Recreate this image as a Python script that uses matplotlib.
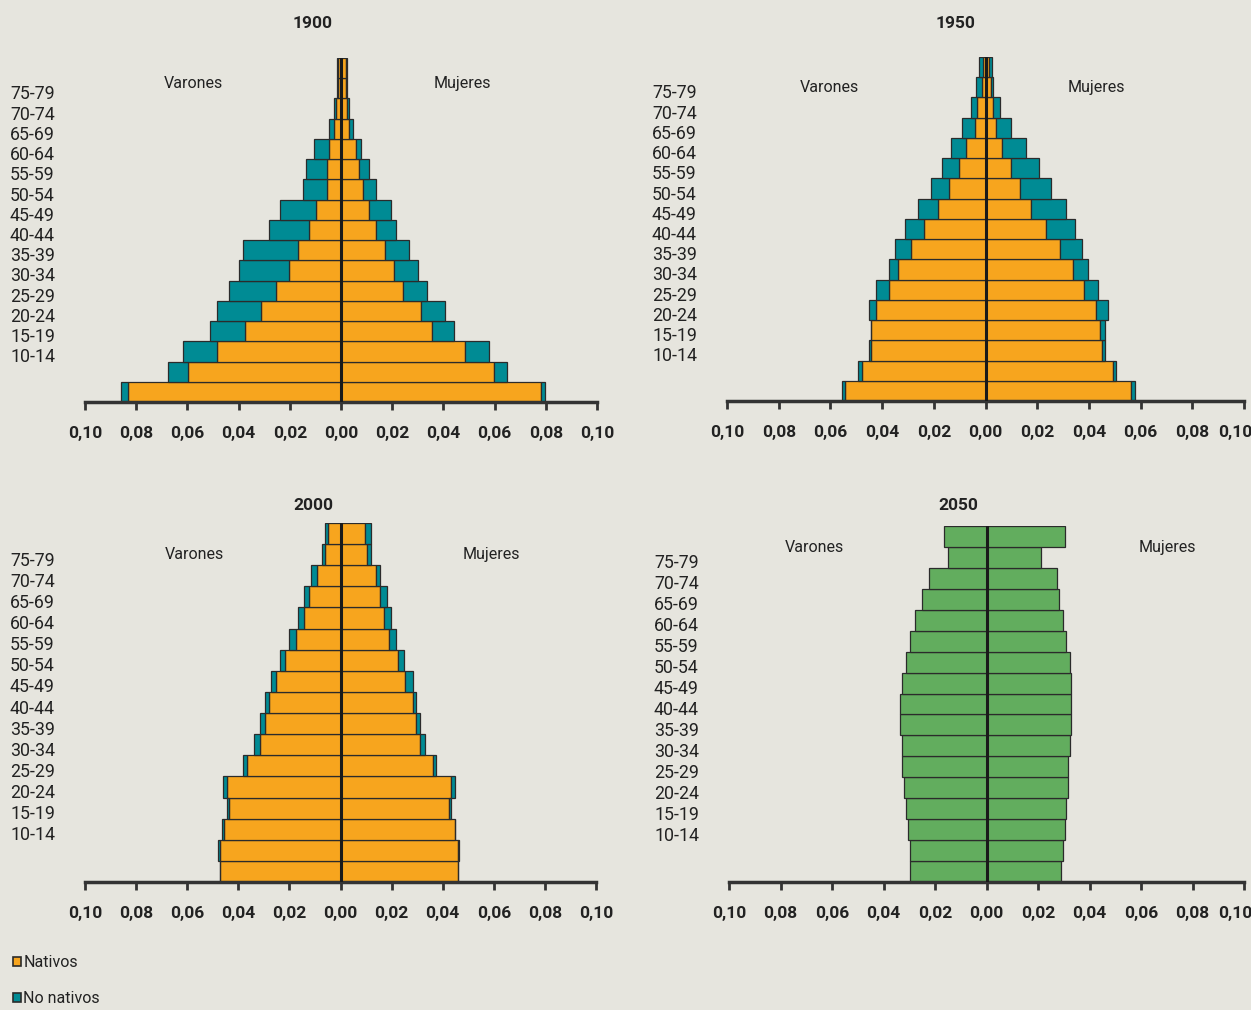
import numpy as np
import matplotlib
matplotlib.use('Agg')
import matplotlib.pyplot as plt
import matplotlib.transforms as mtransforms
from matplotlib.patches import Patch

plt.rcParams['font.family'] = ['Roboto', 'DejaVu Sans']

# grupos de edad, de abajo (0-4) hacia arriba (80+)
grupos = ['0-4', '5-9', '10-14', '15-19', '20-24', '25-29', '30-34', '35-39',
          '40-44', '45-49', '50-54', '55-59', '60-64', '65-69', '70-74',
          '75-79', '80+']
etiquetas = ['10-14', '15-19', '20-24', '25-29', '30-34', '35-39', '40-44',
             '45-49', '50-54', '55-59', '60-64', '65-69', '70-74', '75-79']
ticks_x = [-0.10, -0.08, -0.06, -0.04, -0.02, 0.0, 0.02, 0.04, 0.06, 0.08, 0.10]

# 1900
v1900_nat = [0.0831, 0.0596, 0.0483, 0.0374, 0.0311, 0.0254, 0.0204, 0.0169, 0.0125,
             0.0096, 0.0054, 0.0054, 0.0048, 0.0026, 0.0020, 0.0010, 0.0010]
v1900_tot = [0.0860, 0.0674, 0.0617, 0.0510, 0.0483, 0.0439, 0.0398, 0.0382, 0.0283,
             0.0240, 0.0147, 0.0135, 0.0105, 0.0048, 0.0026, 0.0014, 0.0014]
m1900_nat = [0.0783, 0.0599, 0.0484, 0.0357, 0.0314, 0.0243, 0.0207, 0.0170, 0.0136,
             0.0108, 0.0087, 0.0071, 0.0059, 0.0031, 0.0025, 0.0020, 0.0020]
m1900_tot = [0.0798, 0.0648, 0.0577, 0.0442, 0.0407, 0.0334, 0.0300, 0.0264, 0.0215,
             0.0195, 0.0136, 0.0108, 0.0080, 0.0045, 0.0031, 0.0025, 0.0025]

# 1950
v1950_nat = [0.0543, 0.0479, 0.0443, 0.0443, 0.0422, 0.0373, 0.0337, 0.0289, 0.0239,
             0.0183, 0.0141, 0.0104, 0.0076, 0.0041, 0.0032, 0.0015, 0.0010]
v1950_tot = [0.0556, 0.0493, 0.0450, 0.0444, 0.0450, 0.0423, 0.0373, 0.0352, 0.0310,
             0.0262, 0.0212, 0.0169, 0.0135, 0.0092, 0.0057, 0.0035, 0.0027]
m1950_nat = [0.0564, 0.0493, 0.0450, 0.0443, 0.0429, 0.0381, 0.0337, 0.0289, 0.0233,
             0.0177, 0.0135, 0.0098, 0.0065, 0.0042, 0.0029, 0.0020, 0.0012]
m1950_tot = [0.0577, 0.0506, 0.0464, 0.0464, 0.0472, 0.0437, 0.0395, 0.0373, 0.0345,
             0.0311, 0.0254, 0.0206, 0.0156, 0.0100, 0.0057, 0.0030, 0.0024]

# 2000
v2000_nat = [0.0472, 0.0473, 0.0457, 0.0436, 0.0443, 0.0366, 0.0316, 0.0295, 0.0279,
             0.0251, 0.0216, 0.0174, 0.0144, 0.0124, 0.0093, 0.0059, 0.0047]
v2000_tot = [0.0473, 0.0481, 0.0465, 0.0443, 0.0459, 0.0380, 0.0338, 0.0316, 0.0295,
             0.0273, 0.0237, 0.0202, 0.0167, 0.0144, 0.0116, 0.0074, 0.0062]
m2000_nat = [0.0460, 0.0460, 0.0447, 0.0425, 0.0431, 0.0361, 0.0310, 0.0296, 0.0282,
             0.0254, 0.0225, 0.0191, 0.0169, 0.0155, 0.0140, 0.0104, 0.0096]
m2000_tot = [0.0461, 0.0462, 0.0448, 0.0431, 0.0447, 0.0375, 0.0332, 0.0310, 0.0296,
             0.0282, 0.0247, 0.0219, 0.0197, 0.0183, 0.0155, 0.0118, 0.0118]

# 2050 (proyeccion, sin distinguir origen)
v2050 = [0.0299, 0.0299, 0.0306, 0.0313, 0.0321, 0.0329, 0.0329, 0.0335, 0.0335,
         0.0329, 0.0313, 0.0299, 0.0276, 0.0249, 0.0222, 0.0151, 0.0164]
m2050 = [0.0288, 0.0296, 0.0304, 0.0310, 0.0317, 0.0317, 0.0323, 0.0330, 0.0330,
         0.0330, 0.0323, 0.0310, 0.0296, 0.0282, 0.0275, 0.0211, 0.0304]

fondo = '#E6E5DE'
naranja = '#F7A51E'
verde_azul = '#008B94'
verde = '#62AD5E'
borde = '#2B2B2B'
texto = '#222222'

W, H = 1251, 1010
fig = plt.figure(figsize=(W / 100, H / 100), dpi=100, facecolor=fondo)


def px_ax(l, r, t, b):
    return fig.add_axes([l / W, 1 - b / H, (r - l) / W, (b - t) / H])


def piramide(ax, vnat, vtot, mnat, mtot, color_nat, txt_pos, lab_x, corta_ult=False):
    y = np.arange(len(grupos))
    ax.barh(y, -np.array(vnat), height=1, color=color_nat, edgecolor=borde, linewidth=0.9)
    ax.barh(y, mnat, height=1, color=color_nat, edgecolor=borde, linewidth=0.9)
    if vtot is not None:
        vext = np.array(vtot) - np.array(vnat)
        mext = np.array(mtot) - np.array(mnat)
        ax.barh(y, -vext, left=-np.array(vnat), height=1, color=verde_azul,
                edgecolor=borde, linewidth=0.9)
        ax.barh(y, mext, left=mnat, height=1, color=verde_azul, edgecolor=borde, linewidth=0.9)
    ax.axvline(0, color='#1A1A1A', linewidth=2.2, zorder=5)
    ax.set_xlim(-0.10, 0.10)
    ax.set_ylim(-0.5, len(grupos) - 0.5)
    ax.set_facecolor('none')
    for s in ['top', 'right', 'left']:
        ax.spines[s].set_visible(False)
    ax.spines['bottom'].set_linewidth(2.5)
    ax.spines['bottom'].set_color('#333333')
    ax.set_xticks(ticks_x)
    ax.set_xticklabels([('%.2f' % abs(t)).replace('.', ',') for t in ticks_x],
                       fontsize=12.5, fontweight='bold', color=texto)
    ax.tick_params(axis='x', direction='out', length=6, width=2, color='#333333', pad=11)
    if corta_ult:
        lab = ax.get_xticklabels()[-1]
        lab.set_transform(lab.get_transform() +
                          mtransforms.ScaledTranslation(-9 / 100, 0, fig.dpi_scale_trans))
    ax.set_yticks([grupos.index(e) for e in etiquetas])
    ax.set_yticklabels(etiquetas, fontsize=12.8, color=texto)
    pos = ax.get_position()
    pad_px = pos.x0 * W - lab_x
    ax.tick_params(axis='y', length=0, pad=pad_px * 72 / 100)
    off = mtransforms.ScaledTranslation(0, -4 / 100, fig.dpi_scale_trans)
    for lab in ax.get_yticklabels():
        lab.set_horizontalalignment('left')
        lab.set_transform(lab.get_transform() + off)
    (vx, vy), (mx, my) = txt_pos
    ax.text(vx, vy, 'Varones', transform=ax.transAxes, ha='center', va='center',
            fontsize=11.5, color=texto)
    ax.text(mx, my, 'Mujeres', transform=ax.transAxes, ha='center', va='center',
            fontsize=11.5, color=texto)


ax1 = px_ax(85, 597, 58, 402)
piramide(ax1, v1900_nat, v1900_tot, m1900_nat, m1900_tot, naranja,
         ((0.211, 0.927), (0.738, 0.927)), 10)
ax2 = px_ax(727, 1244, 57, 401)
piramide(ax2, v1950_nat, v1950_tot, m1950_nat, m1950_tot, naranja,
         ((0.199, 0.91), (0.714, 0.91)), 652, corta_ult=True)
ax3 = px_ax(85, 596, 523, 882)
piramide(ax3, v2000_nat, v2000_tot, m2000_nat, m2000_tot, naranja,
         ((0.215, 0.911), (0.795, 0.911)), 10)
ax4 = px_ax(729, 1244, 526, 882)
piramide(ax4, v2050, None, m2050, None, verde,
         ((0.165, 0.941), (0.852, 0.941)), 654, corta_ult=True)

for txt, x, y in [('1900', 313, 23), ('1950', 956, 24), ('2000', 313, 505), ('2050', 958, 505)]:
    fig.text(x / W, 1 - y / H, txt, ha='center', va='center', fontsize=12.5,
             fontweight='bold', color=texto)

handles = [Patch(facecolor=naranja, edgecolor=borde, linewidth=1.2),
           Patch(facecolor=verde_azul, edgecolor=borde, linewidth=1.2)]
fig.legend(handles, ['Nativos', 'No nativos'], loc='upper left',
           bbox_to_anchor=(5 / W, 1 - 947 / H), frameon=False, fontsize=11.5,
           handlelength=0.5, handleheight=0.5, handletextpad=0.15, labelspacing=1.3,
           borderpad=0, labelcolor=texto)

fig.savefig('out.png', dpi=100, facecolor=fondo)
